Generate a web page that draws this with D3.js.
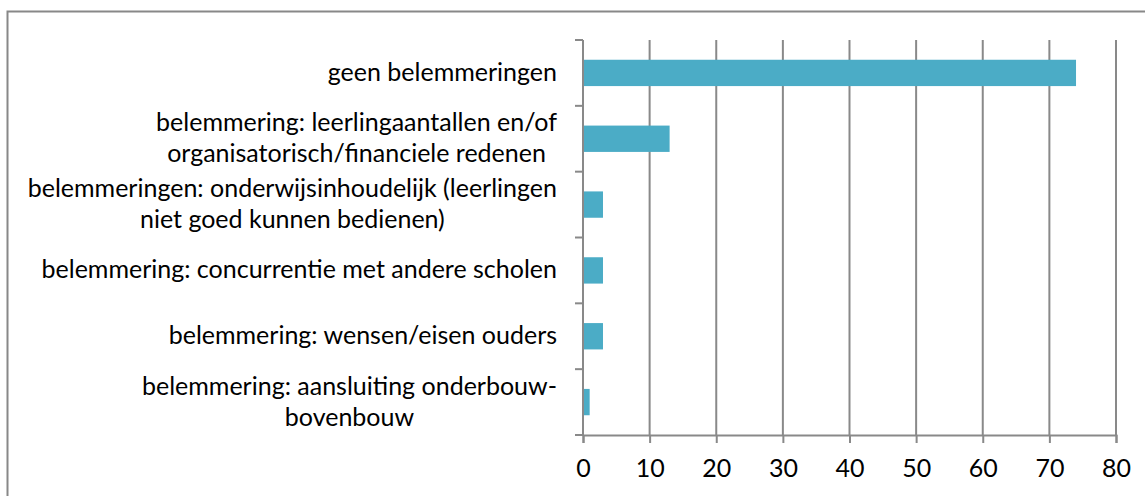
<!DOCTYPE html>
<html>
<head>
<meta charset="utf-8">
<script src="https://cdn.jsdelivr.net/npm/d3@7"></script>
<style>
  body { margin: 0; background: #fff; }
  svg { display: block; }
  .lbl { font-family: Lato, "Open Sans", sans-serif; fill: #000; }
</style>
</head>
<body>
<div id="chart"></div>
<script>
// categories, each split into its display lines
var categories = [
    ["geen belemmeringen"],
    ["belemmering: leerlingaantallen en/of", "organisatorisch/financiele redenen"],
    ["belemmeringen: onderwijsinhoudelijk (leerlingen", "niet goed kunnen bedienen)"],
    ["belemmering: concurrentie met andere scholen"],
    ["belemmering: wensen/eisen ouders"],
    ["belemmering: aansluiting onderbouw-", "bovenbouw"]
];
var values = [74, 13, 3, 3, 3, 1];
var xTicks = [0, 10, 20, 30, 40, 50, 60, 70, 80];

var W = 1145, H = 496;
var fontSize = 25;
var lineGap = 31;
var gridColor = "#898989";
var barColor = "#4bacc6";

var svg = d3.select("#chart").append("svg")
    .attr("width", W)
    .attr("height", H);

// outer chart frame (runs off the right/bottom edge)
svg.append("rect")
    .attr("x", 7.5)
    .attr("y", 11.5)
    .attr("width", 1200)
    .attr("height", 600)
    .attr("fill", "#fff")
    .attr("stroke", "#888")
    .attr("stroke-width", 2);

var keys = categories.map(function(c){ return c.join(" "); });

var x = d3.scaleLinear().domain([0, 80]).range([583, 1116]);
var y = d3.scaleBand().domain(keys).range([40, 435])
    .paddingInner(0.6).paddingOuter(0.3);

// vertical gridlines
svg.append("g").selectAll("line")
    .data(xTicks.slice(1))
    .enter().append("line")
    .attr("x1", function(d){ return x(d); })
    .attr("x2", function(d){ return x(d); })
    .attr("y1", 40)
    .attr("y2", 435)
    .attr("stroke", gridColor)
    .attr("stroke-width", 2);

// bars
svg.append("g").selectAll("rect")
    .data(values)
    .enter().append("rect")
    .attr("x", x(0))
    .attr("y", function(d, i){ return y(keys[i]); })
    .attr("width", function(d){ return x(d) - x(0); })
    .attr("height", y.bandwidth())
    .attr("fill", barColor);

// bottom axis
var xAxis = svg.append("g")
    .attr("transform", "translate(0,435)")
    .call(d3.axisBottom(x).tickValues(xTicks).tickSize(8).tickPadding(16));
xAxis.select(".domain").attr("stroke", gridColor).attr("stroke-width", 2);
xAxis.selectAll(".tick line").attr("stroke", gridColor).attr("stroke-width", 2);
xAxis.selectAll(".tick text")
    .attr("class", "lbl")
    .style("font-size", fontSize + "px")
    .attr("dy", "0.71em");

// left axis line + ticks at band boundaries
var step = y.step();
var bounds = d3.range(keys.length + 1).map(function(i){ return 40 + i * step; });
svg.append("line")
    .attr("x1", x(0)).attr("x2", x(0))
    .attr("y1", 40).attr("y2", 435)
    .attr("stroke", gridColor).attr("stroke-width", 2);
svg.append("g").selectAll("line")
    .data(bounds)
    .enter().append("line")
    .attr("x1", x(0) - 8)
    .attr("x2", x(0))
    .attr("y1", function(d){ return d; })
    .attr("y2", function(d){ return d; })
    .attr("stroke", gridColor)
    .attr("stroke-width", 2);

// category labels: block right aligned, lines centered inside it
var labelRight = 557;
categories.forEach(function(lines, i){
    var cy = y(keys[i]) + y.bandwidth() / 2;
    var g = svg.append("g");
    var texts = lines.map(function(t, j){
        return g.append("text")
            .attr("class", "lbl")
            .style("font-size", fontSize + "px")
            .attr("text-anchor", "middle")
            .attr("y", cy + 8 + (j - (lines.length - 1) / 2) * lineGap)
            .text(t);
    });
    var maxW = d3.max(texts, function(t){ return t.node().getComputedTextLength(); });
    texts.forEach(function(t){ t.attr("x", labelRight - maxW / 2); });
});
</script>
</body>
</html>
